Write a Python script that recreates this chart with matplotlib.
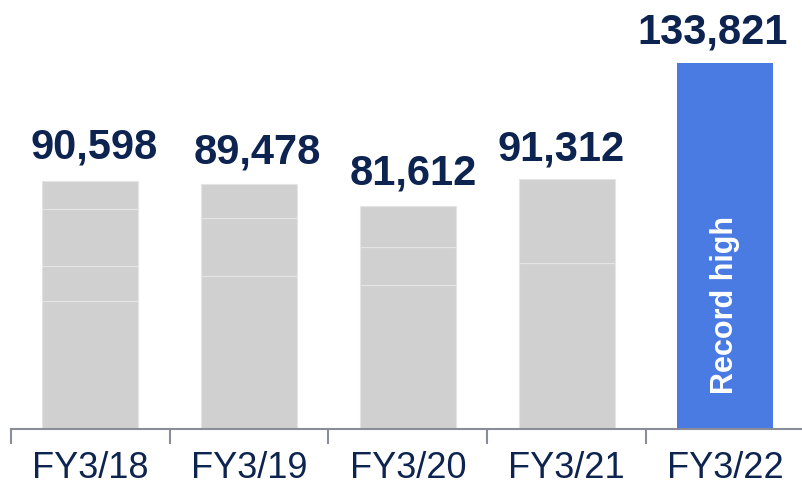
import numpy as np
import matplotlib.pyplot as plt
from matplotlib.ticker import FixedLocator

plt.rcParams['font.family'] = ['Liberation Sans', 'DejaVu Sans']

# data
years = ["FY3/18", "FY3/19", "FY3/20", "FY3/21", "FY3/22"]
totals = [90598, 89478, 81612, 91312, 133821]
# stacked pieces inside the grey bars (bottom -> top)
segs_18 = [46800, 12800, 20800, 10198]
segs_19 = [55900, 21200, 12378]
segs_20 = [52700, 13900, 15012]
segs_21 = [60700, 30612]
segments = [segs_18, segs_19, segs_20, segs_21]

# label nudges (points), the labels are hand placed in the original
label_dx = [3, 6, 4, -4, -9]
label_dy = [17, 16, 16, 14.5, 15]

navy = '#0d2350'
grey = '#d0d0d0'
blue = '#4a7be2'
axis_col = '#8a8c98'

fig = plt.figure(figsize=(8.02, 4.89), dpi=100)
ax = fig.add_axes([11/802, 59/489, 791/802, 430/489])

x = np.arange(len(years))
w = 0.605

# grey bars, stacked segments
for i, segs in enumerate(segments):
    ax.bar([x[i]] * len(segs), segs, bottom=np.concatenate([[0], np.cumsum(segs)[:-1]]),
           width=w, color=grey, edgecolor='#e4e4e4', linewidth=0.8)

# record bar
ax.bar(x[4], totals[4], width=w, color=blue, edgecolor=blue, linewidth=0)
ax.text(x[4], 45700, "Record high", rotation=90, ha='center', va='center',
        color='white', fontsize=22, fontweight='bold')

# value labels
for i in range(len(years)):
    ax.annotate(f"{totals[i]:,}", (x[i], totals[i]), xytext=(label_dx[i], label_dy[i]),
                textcoords='offset points', ha='center', va='baseline',
                fontsize=30, fontweight='bold', color=navy)

ax.set_xlim(-0.5, 4.483)
ax.set_ylim(0, 430 / 366 * totals[4])

for s in ['top', 'right', 'left']:
    ax.spines[s].set_visible(False)
ax.spines['bottom'].set_color(axis_col)
ax.spines['bottom'].set_linewidth(1.5)

ax.set_yticks([])
ax.set_xticks(x)
ax.set_xticklabels(years, fontsize=26, color=navy)
ax.tick_params(axis='x', which='major', length=0, pad=15)
ax.xaxis.set_minor_locator(FixedLocator(np.arange(-0.5, 5, 1.0)))
ax.tick_params(axis='x', which='minor', length=11, width=1.5, color=axis_col, direction='out')

fig.savefig("out.png", dpi=100)
